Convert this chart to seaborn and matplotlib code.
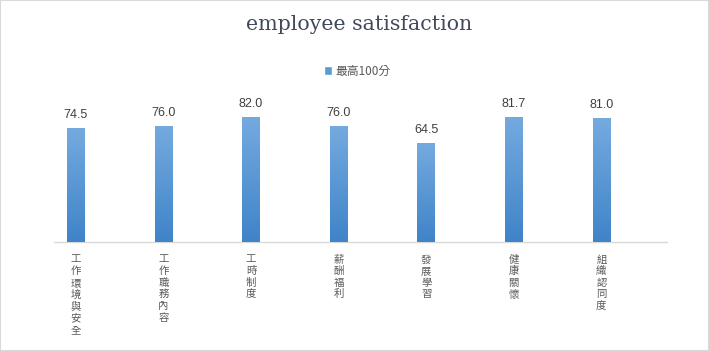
import numpy as np
import pandas as pd
import matplotlib
matplotlib.use("Agg")
import matplotlib.pyplot as plt
import seaborn as sns
from matplotlib.patches import Rectangle

# dados do gráfico
categorias = ["工作環境與安全", "工作職務內容", "工時制度", "薪酬福利", "發展學習", "健康關懷", "組織認同度"]
valores = [74.5, 76.0, 82.0, 76.0, 64.5, 81.7, 81.0]
serie = "最高100分"
titulo = "employee satisfaction"

df = pd.DataFrame({"categoria": categorias, "valor": valores})

sns.set_theme(style="white")
plt.rcParams["font.family"] = ["Noto Sans CJK TC", "DejaVu Sans"]

fig = plt.figure(figsize=(7.09, 3.51), dpi=100)
ax = fig.add_axes([54 / 709, 1 - 242 / 351, 613 / 709, 153 / 351])

sns.barplot(data=df, x="categoria", y="valor", color="#5B9BD5", width=0.2,
            ax=ax, label=serie, saturation=1)

# gradiente nas barras
grad = np.linspace(0, 1, 256).reshape(-1, 1)
cmap = matplotlib.colors.LinearSegmentedColormap.from_list("g", ["#3F84C8", "#75AADF"])
for p in ax.patches:
    x0, y0 = p.get_x(), p.get_y()
    w, h = p.get_width(), p.get_height()
    im = ax.imshow(grad, cmap=cmap, aspect="auto", origin="lower",
                   extent=[x0, x0 + w, y0, y0 + h], zorder=3)
    im.set_clip_path(p)
    ax.annotate(f"{h:.1f}", (x0 + w / 2, h), xytext=(0, 5), textcoords="offset points",
                ha="center", va="bottom", fontsize=9, color="#404040",
                family=["Liberation Sans"])

ax.set_xlim(-0.25, len(categorias) - 0.25)
ax.set_ylim(0, 100)

# rótulos verticais
ax.set_xticks(range(len(categorias)))
ax.set_xticklabels(["\n".join(c) for c in categorias], fontsize=7.5, color="#595959",
                   linespacing=1.2, va="top")
ax.tick_params(axis="x", length=0, pad=9)
ax.set_yticks([])
ax.set_xlabel("")
ax.set_ylabel("")
for s in ["top", "right", "left"]:
    ax.spines[s].set_visible(False)
ax.spines["bottom"].set_color("#D9D9D9")
ax.spines["bottom"].set_linewidth(1)

fig.text(359 / 709, 1 - 25 / 351, titulo, ha="center", va="center", fontsize=14.8,
         color="#404A5A", family=["DejaVu Serif"])

leg = ax.legend(loc="center", bbox_to_anchor=(357 / 709, 1 - 71 / 351),
                bbox_transform=fig.transFigure, frameon=False, fontsize=8.5,
                handlelength=0.7, handleheight=0.7, handletextpad=0.3)
for t in leg.get_texts():
    t.set_color("#595959")

fig.patches.append(Rectangle((0, 0), 1, 1, transform=fig.transFigure, fill=False,
                             edgecolor="#D9D9D9", linewidth=1.5))

fig.savefig("out.png", dpi=100)
